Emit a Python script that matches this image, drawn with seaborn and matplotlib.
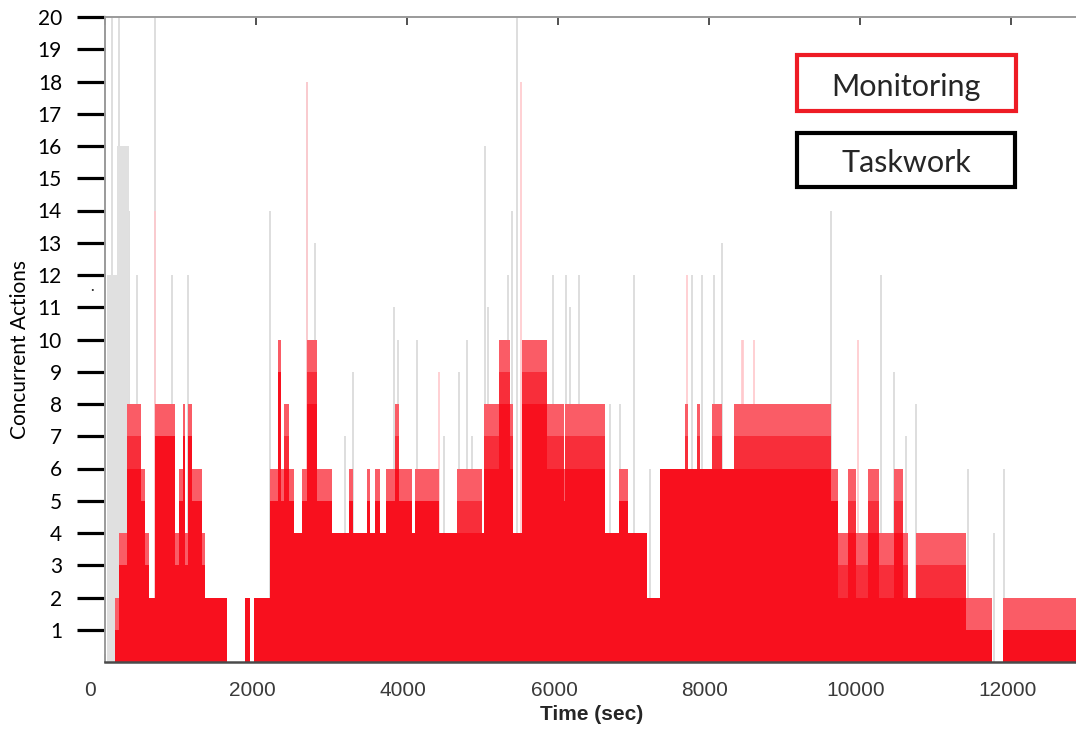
import numpy as np
import pandas as pd
import matplotlib
matplotlib.use("Agg")
import matplotlib.pyplot as plt
from matplotlib.patches import Rectangle
from matplotlib.transforms import ScaledTranslation
import seaborn as sns

# ---------------- data ----------------
# Monitoring: piecewise-constant concurrent actions (segment start times, sec)
seg_start = [0, 135, 188, 294, 479, 532, 585, 664, 929, 982, 1035, 1061, 1101, 1154,
             1286, 1326, 1617, 1855, 1921, 1974, 2186, 2292, 2331, 2371, 2437, 2503,
             2609, 2675, 2807, 3006, 3231, 3284, 3469, 3509, 3575, 3641, 3720, 3839,
             3892, 4064, 4104, 4422, 4660, 4990, 5017, 5216, 5361, 5401, 5520, 5851,
             6076, 6089, 6618, 6803, 6922, 7174, 7346, 7677, 7717, 7836, 7876, 8035,
             8167, 8326, 9621, 9714, 9846, 9952, 10111, 10256, 10455, 10574, 10640,
             10746, 11407, 11751, 11897]
seg_end_last = 13000
# peak level reached within each segment
seg_level = [0, 2, 4, 8, 6, 4, 2, 8, 4, 6, 8, 4, 8, 6,
             4, 2, 0, 2, 0, 2, 6, 10, 6, 8, 6, 4,
             6, 10, 6, 4, 6, 4, 6, 4, 6, 4, 6, 8,
             6, 4, 6, 4, 6, 4, 8, 10, 8, 4, 10, 8,
             6, 8, 4, 6, 4, 2, 6, 8, 6, 8, 6, 8,
             6, 8, 6, 4, 6, 4, 6, 4, 6, 4, 2,
             4, 2, 0, 2]
# level held continuously (solid part) within each segment
seg_core = [0, 1, 3, 6, 5, 3, 2, 7, 3, 5, 7, 3, 7, 5,
            3, 2, 0, 2, 0, 2, 5, 9, 5, 6, 5, 4,
            5, 8, 5, 4, 5, 4, 5, 4, 5, 4, 5, 6,
            5, 4, 5, 4, 4, 4, 6, 8, 6, 4, 8, 6,
            5, 6, 4, 5, 4, 2, 6, 6, 6, 6, 6, 6,
            6, 6, 5, 2, 4, 2, 4, 2, 4, 2, 2,
            2, 1, 0, 1]

# Taskwork: early dense block and thin spikes
task_block_start = [30, 160]
task_block_end = [160, 320]
task_block_level = [12, 16]

task_spike_t = [95, 188, 228, 320, 426, 664, 890, 1101, 2186, 2675, 2780, 3178, 3284,
                3826, 3879, 4130, 4488, 4687, 4793, 4859, 5030, 5070, 5335, 5388, 5454,
                5930, 6102, 6155, 6274, 6684, 6816, 7001, 7213, 7769, 7902, 8061, 8167,
                9621, 10283, 10455, 10614, 10746, 11434, 11778, 11910]
task_spike_h = [20, 20, 16, 14, 12, 20, 12, 12, 14, 18, 13, 7, 9,
                11, 10, 10, 7, 9, 10, 7, 16, 11, 12, 14, 20,
                12, 12, 11, 12, 8, 8, 12, 6, 12, 12, 12, 13,
                14, 12, 9, 7, 8, 6, 4, 6]

mon_spike_t = [664, 2675, 4422, 5507, 7703, 8430, 8445, 8600, 9976]
mon_spike_h = [14, 18, 9, 18, 12, 10, 10, 10, 10]

x_ticks = [0, 2000, 4000, 6000, 8000, 10000, 12000]
y_ticks = list(range(1, 21))

# ---------------- style ----------------
sns.set_theme(style="white")
plt.rcParams["font.family"] = ["Lato", "DejaVu Sans"]

RED = "#F8101E"
RED_MID = "#F82E3A"
RED_LIGHT = "#FA5C66"
GRAY_BLOCK = "#E0E0E0"
GRAY_SPIKE = "#D8D8D8"
PINK_SPIKE = "#FFC8CC"

fig = plt.figure(figsize=(10.76, 7.3), dpi=100)
ax = fig.add_axes([105 / 1076, (730 - 662) / 730, (1076 - 105) / 1076, (662 - 17) / 730])

edges = seg_start + [seg_end_last]
lvl = np.array(seg_level, dtype=float)
core = np.array(seg_core, dtype=float)
mid = np.where(lvl - 1 > core, lvl - 1, 0)

df = pd.DataFrame({"t": seg_start, "level": lvl, "mid": mid, "core": core})

# taskwork spikes and block (behind monitoring)
ax.vlines(task_spike_t, 0, task_spike_h, color=GRAY_SPIKE, lw=1.2, zorder=1)
ax.vlines(mon_spike_t, 0, mon_spike_h, color=PINK_SPIKE, lw=1.2, zorder=1)
tb = pd.DataFrame({"t": task_block_start, "h": task_block_level})
sns.histplot(data=tb, x="t", weights="h", bins=[30, 160, 320], color=GRAY_BLOCK,
             alpha=1, linewidth=0, ax=ax, zorder=1)

for col, c in [("level", RED_LIGHT), ("mid", RED_MID), ("core", RED)]:
    sns.histplot(data=df, x="t", weights=col, bins=edges, color=c, alpha=1,
                 linewidth=0, ax=ax, zorder=2)

ax.set_xlim(0, 12860)
ax.set_ylim(0, 20)
ax.set_xlabel("")
ax.set_ylabel("")

ax.set_yticks(y_ticks)
ax.set_yticklabels([str(v) for v in y_ticks])
ax.set_xticks(x_ticks)
ax.set_xticklabels([str(v) for v in x_ticks])

ax.tick_params(axis="y", left=True, right=False, direction="out", length=20, width=2.3,
               color="black", pad=11, labelsize=15, labelcolor="black")
ax.tick_params(axis="x", bottom=True, top=True, direction="in", length=6, width=1.2,
               color="#333333", pad=14, labelsize=15, labelcolor="#3a3a3a")
for i, lab in enumerate(ax.get_xticklabels()):
    lab.set_fontfamily(["Liberation Sans", "DejaVu Sans"])
    dx = -15 if i == 0 else -4
    lab.set_transform(lab.get_transform() + ScaledTranslation(dx / 100, 0, fig.dpi_scale_trans))

for s in ["left", "top"]:
    ax.spines[s].set_color("#9a9a9a")
    ax.spines[s].set_linewidth(1.4)
ax.spines["bottom"].set_color("#4a4a4a")
ax.spines["bottom"].set_linewidth(1.8)
ax.spines["right"].set_visible(False)
ax.grid(False)

fig.text(20 / 1076, 1 - 350 / 730, "Concurrent Actions", rotation=90, ha="center",
         va="center", fontsize=15, color="black")
fig.text(592 / 1076, 1 - 715 / 730, "Time (sec)", ha="center", va="center",
         fontsize=15, fontweight="bold", family=["Liberation Sans", "DejaVu Sans"])
fig.text(92 / 1076, 1 - 290 / 730, "·", ha="center", va="center", fontsize=10)

# legend boxes
fig.patches.append(Rectangle((797 / 1076, 1 - 111 / 730), 219 / 1076, 56 / 730,
                             transform=fig.transFigure, facecolor="white",
                             edgecolor="#EE1C25", lw=3, zorder=5))
fig.patches.append(Rectangle((797 / 1076, 1 - 187 / 730), 218 / 1076, 54 / 730,
                             transform=fig.transFigure, facecolor="white",
                             edgecolor="black", lw=3, zorder=5))
fig.text(906 / 1076, 1 - 96 / 730, "Monitoring", ha="center", va="baseline",
         fontsize=22, zorder=6)
fig.text(906 / 1076, 1 - 172 / 730, "Taskwork", ha="center", va="baseline",
         fontsize=22, zorder=6)

fig.savefig("out.png", dpi=100)
